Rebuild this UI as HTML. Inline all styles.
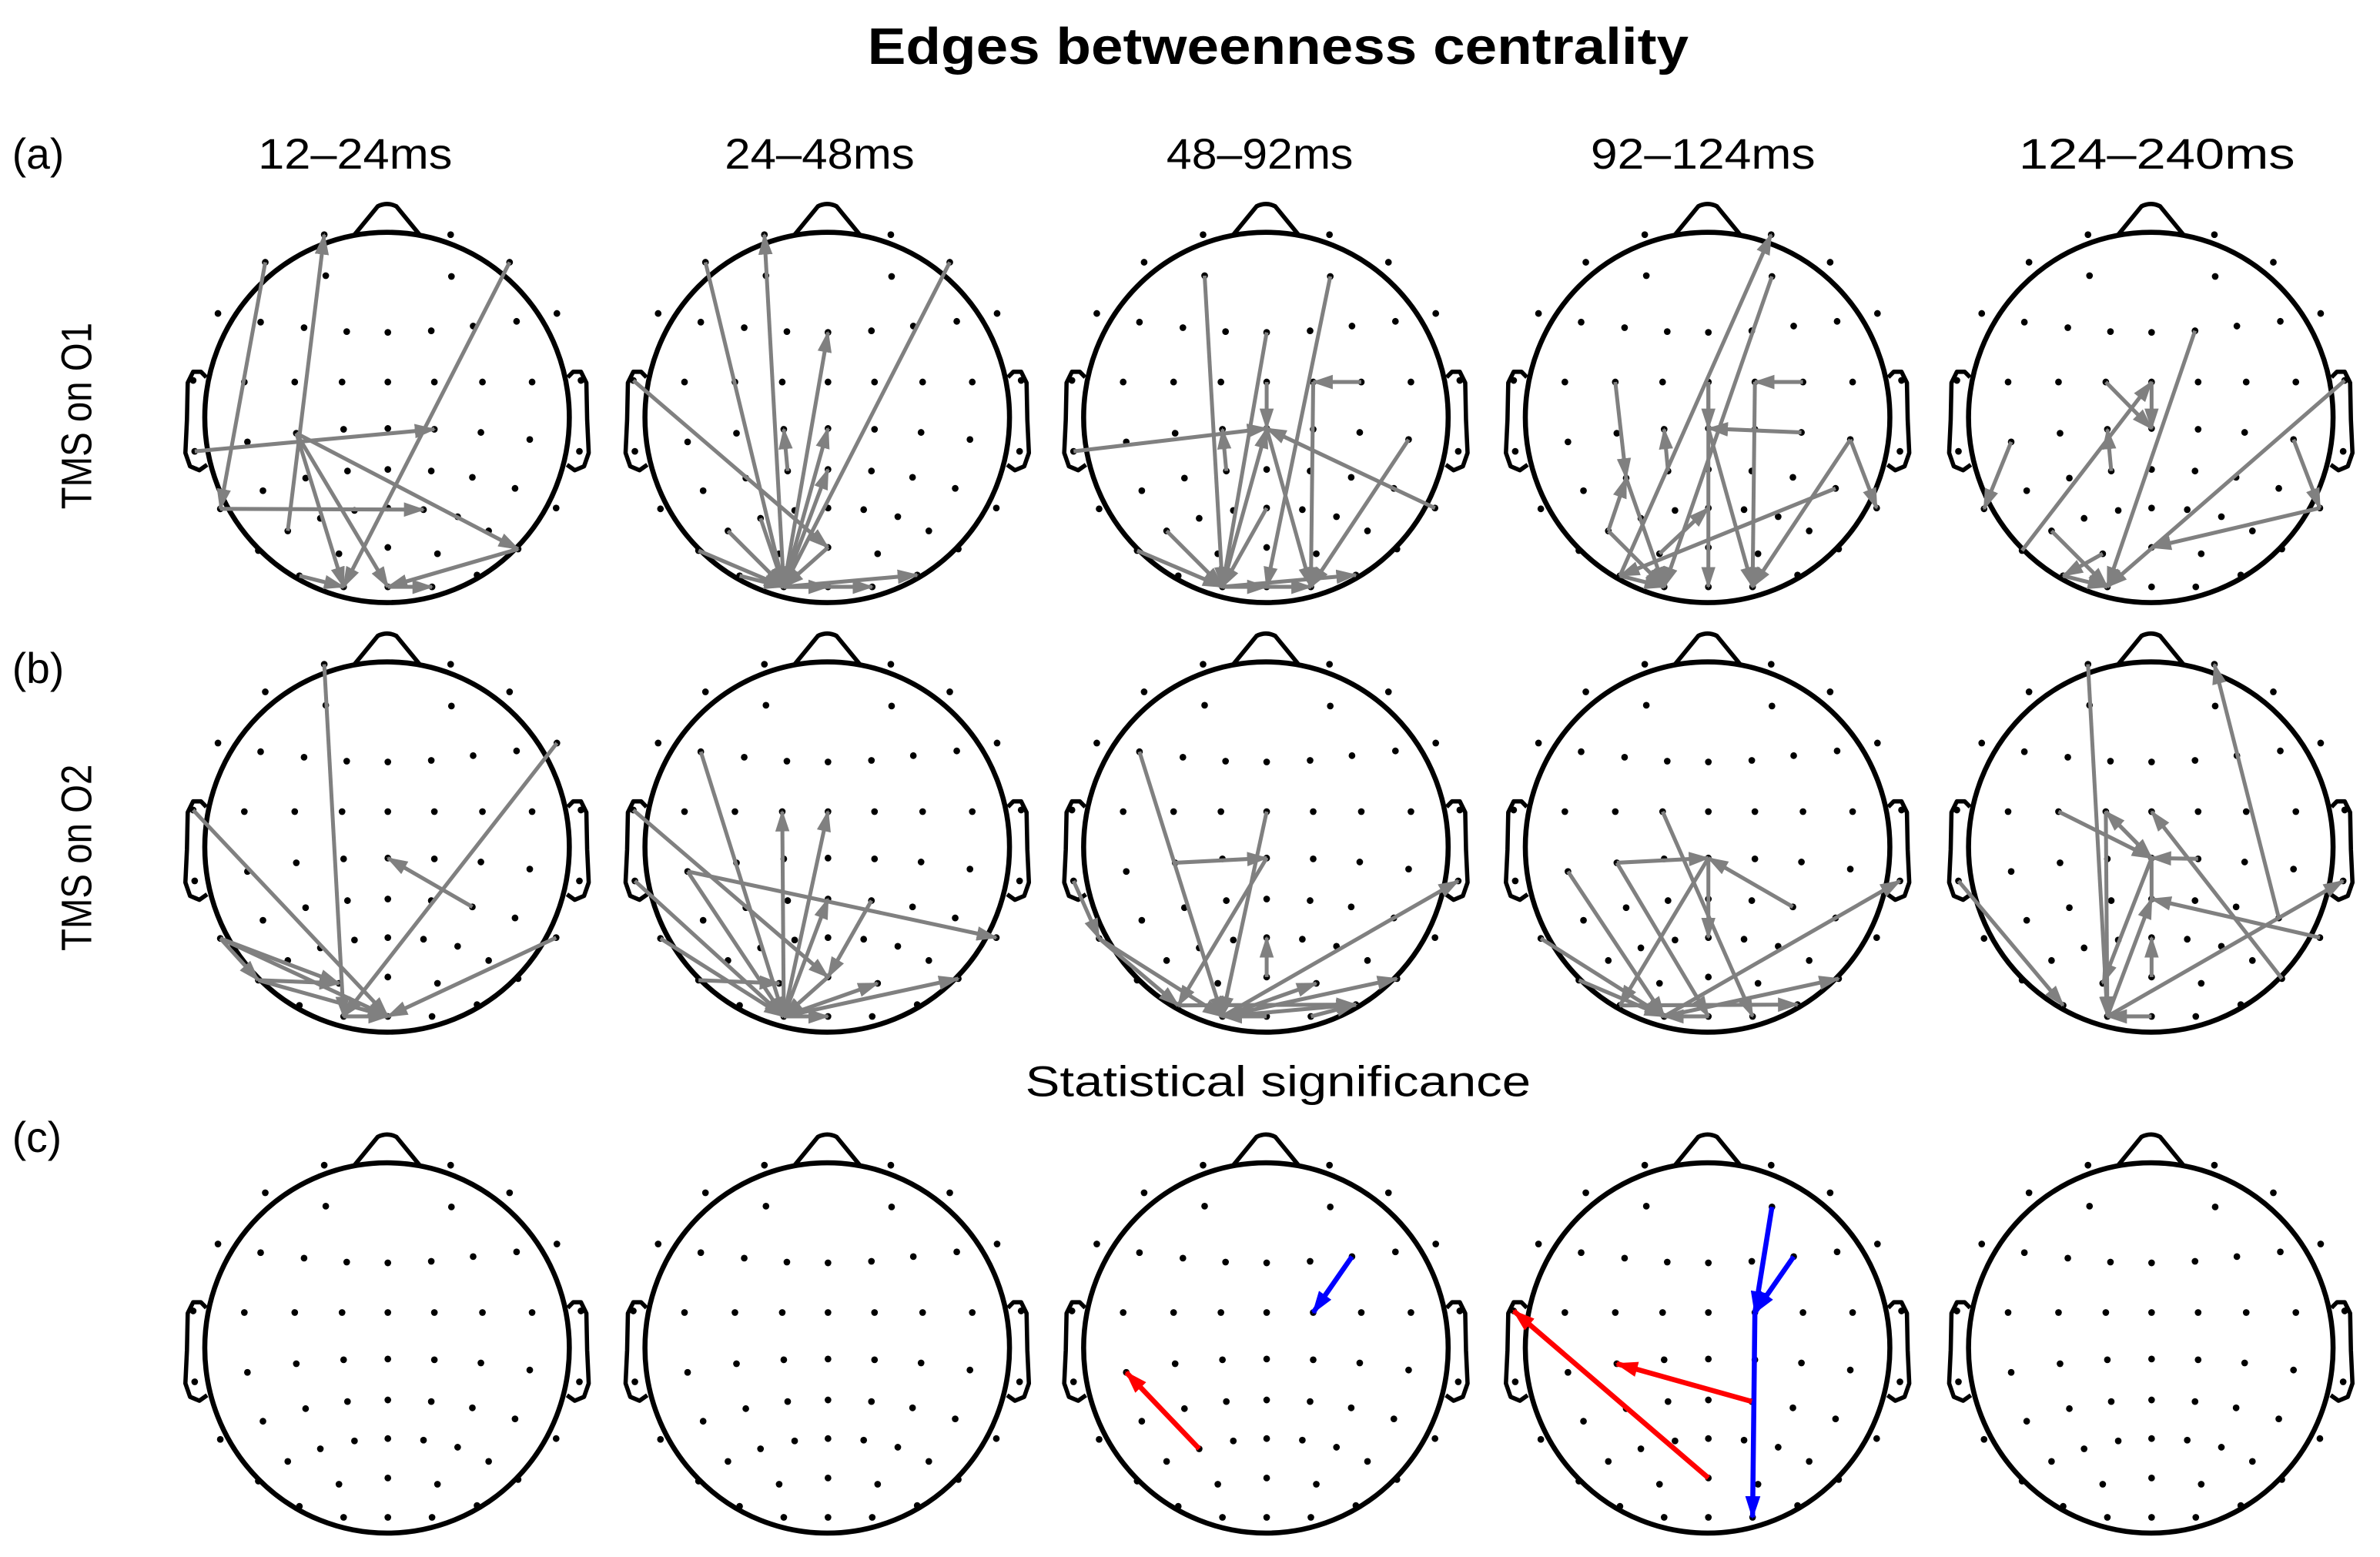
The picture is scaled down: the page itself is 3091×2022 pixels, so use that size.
<!DOCTYPE html>
<html><head><meta charset="utf-8"><style>
html,body{margin:0;padding:0;background:#fff;}
svg{display:block;}
text{font-family:"Liberation Sans",sans-serif;fill:#000;}
</style></head><body>
<svg id="s" xmlns="http://www.w3.org/2000/svg" xmlns:xlink="http://www.w3.org/1999/xlink" width="3091" height="2022" viewBox="0 0 1568 1025.7">
<defs>
<marker id="mg" viewBox="0 0 12 8" refX="11" refY="4" markerWidth="5.5" markerHeight="3.8" orient="auto" markerUnits="strokeWidth"><path d="M0,0 L12,4 L0,8 z" fill="#808080"/></marker>
<marker id="mr" viewBox="0 0 12 8" refX="11" refY="4" markerWidth="4.5" markerHeight="3" orient="auto" markerUnits="strokeWidth"><path d="M0,0 L12,4 L0,8 z" fill="#ff0000"/></marker>
<marker id="mb" viewBox="0 0 12 8" refX="11" refY="4" markerWidth="4.5" markerHeight="3" orient="auto" markerUnits="strokeWidth"><path d="M0,0 L12,4 L0,8 z" fill="#0000ff"/></marker>
<g id="head">
<circle cx="0" cy="0" r="235" fill="none" stroke="#000" stroke-width="6.5"/>
<path d="M-42,-232 L-12,-268 Q0,-274 12,-268 L42,-232" fill="none" stroke="#000" stroke-width="5.5" stroke-linejoin="round"/>
<path d="M233,-51 L240,-58 L250,-58 L257,-44 L258,3 L260,45 L254,62 L242,67 L232,60" fill="none" stroke="#000" stroke-width="5.5" stroke-linejoin="round"/>
<path d="M-233,-51 L-240,-58 L-250,-58 L-257,-44 L-258,3 L-260,45 L-254,62 L-242,67 L-232,60" fill="none" stroke="#000" stroke-width="5.5" stroke-linejoin="round"/>
<g id="dots" fill="#000"></g>
</g>
</defs>
<text x="842" y="42" font-size="34" font-weight="bold" text-anchor="middle" textLength="541" lengthAdjust="spacingAndGlyphs">Edges betweenness centrality</text>
<text x="234" y="111" font-size="28" text-anchor="middle" textLength="128" lengthAdjust="spacingAndGlyphs">12–24ms</text>
<text x="540" y="111" font-size="28" text-anchor="middle" textLength="125" lengthAdjust="spacingAndGlyphs">24–48ms</text>
<text x="830" y="111" font-size="28" text-anchor="middle" textLength="123" lengthAdjust="spacingAndGlyphs">48–92ms</text>
<text x="1122" y="111" font-size="28" text-anchor="middle" textLength="148" lengthAdjust="spacingAndGlyphs">92–124ms</text>
<text x="1421" y="111" font-size="28" text-anchor="middle" textLength="182" lengthAdjust="spacingAndGlyphs">124–240ms</text>
<text x="8" y="111" font-size="28">(a)</text>
<text x="8" y="450" font-size="28">(b)</text>
<text x="8" y="759" font-size="28">(c)</text>
<text transform="translate(60,274) rotate(-90)" font-size="28" text-anchor="middle" textLength="123" lengthAdjust="spacingAndGlyphs">TMS on O1</text>
<text transform="translate(60,565) rotate(-90)" font-size="28" text-anchor="middle" textLength="123" lengthAdjust="spacingAndGlyphs">TMS on O2</text>
<text x="842" y="722" font-size="28" text-anchor="middle" textLength="333" lengthAdjust="spacingAndGlyphs">Statistical significance</text>
<g id="heads"></g>
</svg>
<script>
var E={A1:[-81,-232],A2:[82,-232],B1:[-157,-197],B2:[158,-197],C1:[-79,-180],C2:[83,-179],D1:[-218,-132],D2:[219,-132],
E1:[-163,-121],E2:[-107,-114],E3:[-52,-109],E4:[1,-108],E5:[57,-110],E6:[111,-116],E7:[167,-122],
F0:[-250,-47],F1:[-184,-45],F2:[-119,-45],F3:[-58,-45],F4:[1,-45],F5:[61,-45],F6:[123,-45],F7:[187,-45],F8:[250,-47],
G1:[-180,31],G2:[-117,20],G3:[-56,15],G4:[1,14],G5:[61,15],G6:[121,19],G7:[184,28],Ge0:[-248,43],Ge8:[248,43],
H1:[-160,93],H2:[-105,77],H3:[-51,68],H4:[1,66],H5:[57,68],H6:[110,76],H7:[165,90],I1:[-215,116],I2:[218,115],
J1:[-128,144],J2:[-86,128],J3:[-42,118],J4:[1,115],J5:[47,117],J6:[91,126],J7:[131,144],K1:[-166,169],K2:[169,167],
L1:[-62,173],L2:[1,165],L3:[65,173],M1:[-113,201],M2:[116,200],N1:[-56,215],N2:[1,215],N3:[58,215]};
var NS="http://www.w3.org/2000/svg";
var dots=document.getElementById("dots");
for(var k in E){var c=document.createElementNS(NS,"circle");c.setAttribute("cx",E[k][0]);c.setAttribute("cy",E[k][1]);c.setAttribute("r","4.3");dots.appendChild(c);}
var cols=[255,545,834,1125,1417],rows=[275,558,888];
var P={
"0,0":"B1>I1 J1>A1 Ge0>G5 B2>N1 G2>N1 G2>N2 G2>K2 K2>N2 N2>N3 M1>N1 I1>J5",
"0,1":"N1>A1 B1>N1 B2>N1 N1>E4 F0>L2 L2>N1 H3>G3 N1>G4 N1>H4 J1>N1 K1>N1 J2>N1 N1>M2 N1>N3 N1>N2 M1>N1",
"0,2":"C1>N1 C2>N2 E4>N1 F6>F5 F5>N3 F4>G4 Ge0>G4 I2>G4 N1>G4 G4>N3 G7>N3 J1>N1 K1>N1 N1>M2 H3>G3 J4>N1 N1>N2 N2>N3",
"0,3":"M1>A2 C2>N1 F6>F5 F5>N3 G6>G4 F4>G4 G4>N3 F2>H2 H2>N1 J1>H2 J1>N1 H3>G3 F4>N2 G7>I2 G7>N3 H7>M1 L1>J4 M1>N1",
"0,4":"E5>N1 F3>G4 F4>G4 H3>G3 K1>F4 G1>I1 F8>N1 G7>I2 I2>L2 J1>N1 L1>M1 M1>N1",
"1,0":"A1>N1 D2>N1 F0>N2 H6>G4 I2>N2 I1>L1 K1>L1 K1>N2 I1>K1 I1>N2 N1>N2",
"1,1":"F0>L2 E1>N1 G1>I2 G1>N1 Ge0>N1 N1>F3 N1>F4 H5>L2 N1>H4 I1>N1 K1>L1 N1>L3 N1>K2 N1>N2 L2>N1",
"1,2":"E1>N1 G2>G4 F4>N1 G4>M1 L2>J4 Ge0>I1 I1>M1 I1>N1 N1>Ge8 N1>K2 N1>L3 N1>M2 N3>M2 N2>N1 M1>M2",
"1,3":"F3>N3 G2>G4 G2>N2 G4>M1 H6>G4 G4>J4 G1>N1 I1>N1 K1>N1 N1>Ge8 N1>K2 M1>M2 N2>N1",
"1,4":"A1>N1 H7>A2 F2>G4 F3>G4 G4>F3 K2>F4 G5>G4 G4>L1 F3>N1 N1>H4 L2>J4 G4-H4 I2>H4 Ge0>M1 N1>Ge8 N2>N1",
"2,2":"E6>F5:b J2>G1:r",
"2,3":"C2>F5:b E6>F5:b F5>N3:b L2>F0:r H5>G2:r"
};
var hs=document.getElementById("heads");
for(var r=0;r<3;r++)for(var c2=0;c2<5;c2++){
 var g=document.createElementNS(NS,"g");
 g.setAttribute("transform","translate("+cols[c2]+","+rows[r]+") scale(0.511,0.519)");
 var u=document.createElementNS(NS,"use");u.setAttribute("href","#head");u.setAttributeNS("http://www.w3.org/1999/xlink","xlink:href","#head");g.appendChild(u);
 var s=P[r+","+c2];
 if(s){s.split(" ").forEach(function(t){
   var col="#808080",m="mg",w=5;
   var parts=t.split(":");if(parts[1]=="r"){col="#ff0000";m="mr";w=6.5;}if(parts[1]=="b"){col="#0000ff";m="mb";w=6.5;}
   var head=parts[0].indexOf(">")>=0;var ab=parts[0].split(/[>-]/);
   var a=E[ab[0]],b=E[ab[1]];
   var l=document.createElementNS(NS,"line");
   l.setAttribute("x1",a[0]);l.setAttribute("y1",a[1]);l.setAttribute("x2",b[0]);l.setAttribute("y2",b[1]);
   l.setAttribute("stroke",col);l.setAttribute("stroke-width",w);
   if(head)l.setAttribute("marker-end","url(#"+m+")");
   g.appendChild(l);
 });}
 hs.appendChild(g);
}
</script>
</body></html>
